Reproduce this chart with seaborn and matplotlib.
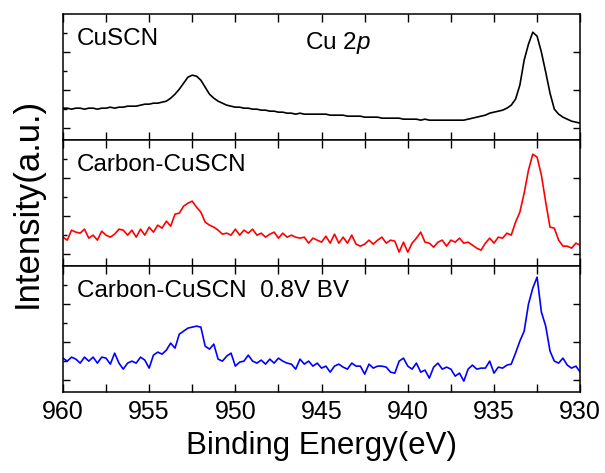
import numpy as np
import pandas as pd
import matplotlib
matplotlib.use("Agg")
import matplotlib.pyplot as plt
import seaborn as sns

# binding energy grid, 0.25 eV steps from 960 down to 930
energy = np.linspace(960, 930, 121)

# intensities (arbitrary units), 8 values = 2 eV per row
cuscn = [32, 32, 31, 32, 32, 31, 32, 32,      # 960.0
         31, 32, 32, 33, 32, 33, 33, 34,      # 958.0
         34, 34, 35, 36, 36, 37, 37, 38,      # 956.0
         39, 42, 46, 51, 57, 63, 65, 64,      # 954.0
         60, 53, 46, 42, 39, 37, 35, 34,      # 952.0
         33, 33, 32, 32, 31, 31, 30, 30,      # 950.0
         29, 29, 28, 28, 27, 27, 26, 27,      # 948.0
         26, 26, 26, 26, 26, 26, 25, 25,      # 946.0
         25, 25, 24, 24, 24, 24, 23, 23,      # 944.0
         23, 23, 22, 22, 22, 22, 22, 21,      # 942.0
         21, 21, 21, 20, 21, 20, 20, 20,      # 940.0
         20, 20, 20, 20, 20, 20, 21, 22,      # 938.0
         23, 24, 25, 27, 28, 29, 30, 32,      # 936.0
         35, 41, 55, 80, 96, 108, 104, 88,    # 934.0
         68, 47, 31, 26, 23, 21, 19, 18,      # 932.0
         17]                                  # 930.0

carbon = [29, 26, 36, 34, 33, 37, 28, 31,
          26, 35, 31, 29, 32, 37, 36, 31,
          36, 29, 37, 31, 39, 34, 41, 38,
          45, 40, 52, 53, 60, 63, 65, 59,
          54, 44, 41, 39, 36, 32, 33, 31,
          37, 31, 36, 33, 37, 31, 33, 29,
          32, 34, 28, 33, 29, 31, 29, 28,
          29, 23, 28, 26, 24, 30, 23, 32,
          23, 29, 23, 31, 22, 20, 22, 26,
          22, 26, 29, 23, 26, 25, 14, 24,
          14, 23, 28, 34, 24, 23, 19, 24,
          26, 20, 26, 24, 28, 23, 24, 21,
          18, 16, 23, 28, 23, 29, 28, 33,
          31, 44, 54, 73, 96, 112, 109, 91,
          64, 39, 38, 26, 20, 20, 18, 23,
          21]

carbon_bv = [34, 31, 35, 33, 29, 35, 31, 35,
             29, 35, 34, 28, 39, 29, 23, 29,
             31, 29, 35, 32, 24, 37, 40, 38,
             42, 49, 44, 58, 61, 64, 65, 66,
             65, 46, 43, 48, 33, 31, 36, 39,
             26, 30, 31, 37, 31, 29, 32, 28,
             33, 29, 34, 31, 29, 28, 23, 33,
             28, 31, 26, 29, 24, 26, 20, 26,
             28, 25, 23, 29, 26, 26, 18, 28,
             24, 26, 26, 25, 20, 19, 31, 34,
             26, 23, 29, 20, 22, 14, 25, 29,
             23, 25, 23, 16, 19, 11, 23, 27,
             23, 24, 24, 31, 19, 25, 24, 27,
             28, 39, 51, 61, 88, 104, 115, 80,
             66, 41, 31, 29, 34, 27, 24, 26,
             20]

panels = [("CuSCN", cuscn, "black"),
          ("Carbon-CuSCN", carbon, "red"),
          ("Carbon-CuSCN  0.8V BV", carbon_bv, "blue")]

sns.set_style("ticks")
plt.rcParams['font.family'] = ['Liberation Sans', 'DejaVu Sans']
plt.rcParams['mathtext.fontset'] = 'custom'
plt.rcParams['mathtext.rm'] = 'Liberation Sans'
plt.rcParams['mathtext.it'] = 'Liberation Sans:italic'
for key in ['text.color', 'axes.labelcolor', 'xtick.color', 'ytick.color']:
    plt.rcParams[key] = 'black'

fig, axes = plt.subplots(3, 1, sharex=True, figsize=(6.05, 4.73), dpi=100)
fig.subplots_adjust(left=0.104, right=0.959, top=0.970, bottom=0.171, hspace=0)

for ax, (name, vals, col) in zip(axes, panels):
    df = pd.DataFrame({'energy': energy, 'intensity': vals})
    sns.lineplot(data=df, x='energy', y='intensity', color=col, lw=1.2, ax=ax,
                 sort=False, estimator=None)
    ax.set_xlim(960, 930)
    ax.set_ylim(0, 126)
    ax.set_xlabel('')
    ax.set_ylabel('')
    ax.set_xticks([960, 955, 950, 945, 940, 935, 930])
    ax.set_xticks([957.5, 952.5, 947.5, 942.5, 937.5, 932.5], minor=True)
    ax.set_yticks([12, 50, 88])
    ax.set_yticks([31, 69, 107], minor=True)
    ax.set_yticklabels([])
    ax.tick_params(axis='x', which='both', direction='in', length=6, width=1,
                   top=True, bottom=True, labelsize=18, pad=6)
    ax.tick_params(axis='y', which='major', direction='in', length=5, width=1,
                   left=True, right=True)
    ax.tick_params(axis='y', which='minor', direction='in', length=3, width=1,
                   left=True, right=False)
    for sp in ax.spines.values():
        sp.set_linewidth(1.1)
        sp.set_color('black')
    ax.text(0.027, 0.80, name, transform=ax.transAxes, fontsize=17.5,
            va='center', ha='left')

axes[0].text(0.468, 0.77, r'Cu $\it{2p}$', transform=axes[0].transAxes,
             fontsize=17.5, va='center', ha='left')

axes[2].set_xlabel('Binding Energy(eV)', fontsize=22.5, labelpad=5)
fig.text(0.045, 0.57, 'Intensity(a.u.)', rotation=90, fontsize=25,
         va='center', ha='center')

fig.savefig('out.png', dpi=100)
